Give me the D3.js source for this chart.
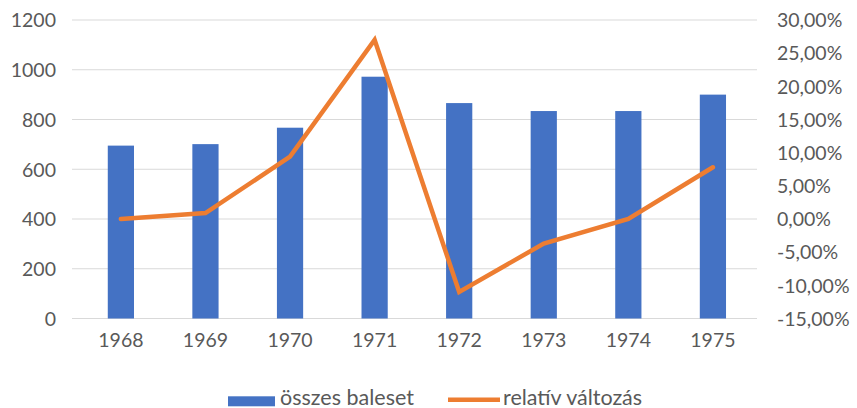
<!DOCTYPE html>
<html>
<head>
<meta charset="utf-8">
<script src="https://cdn.jsdelivr.net/npm/d3@7"></script>
<style>
  html, body { margin: 0; padding: 0; background: #fff; }
  svg { display: block; }
  text { font-family: Lato, "Open Sans", sans-serif; fill: #595959; }
</style>
</head>
<body>
<svg id="chart" width="857" height="408"></svg>
<script>
// Yearly accident totals and their relative change
const years = ["1968", "1969", "1970", "1971", "1972", "1973", "1974", "1975"];
const totalAccidents = [695, 701, 767, 972, 866, 834, 834, 900];
const relativeChange = [0.0, 0.9, 9.4, 27.0, -11.0, -3.7, 0.0, 7.8];
const leftTicks = [0, 200, 400, 600, 800, 1000, 1200];
const rightTicks = [-15, -10, -5, 0, 5, 10, 15, 20, 25, 30];
const seriesNames = ["összes baleset", "relatív változás"];

const barColor = "#4472C4";
const lineColor = "#ED7D31";
const axisFont = "19.5px";

const svg = d3.select("#chart");
const plotTop = 20, plotBottom = 318.5;
const gridLeft = 72, gridRight = 757;

const x = d3.scaleBand().domain(years).range([78.6, 755.2])
  .paddingInner(0.69).paddingOuter(0.345);
const yL = d3.scaleLinear().domain([0, 1200]).range([plotBottom, plotTop]);
const yR = d3.scaleLinear().domain([-15, 30]).range([plotBottom, plotTop]);

// horizontal gridlines
svg.append("g").selectAll("line").data(leftTicks).join("line")
  .attr("x1", gridLeft).attr("x2", gridRight)
  .attr("y1", d => yL(d)).attr("y2", d => yL(d))
  .attr("stroke", "#d9d9d9").attr("stroke-width", 1);

// left axis labels
const axL = svg.append("g").attr("transform", "translate(56,0)")
  .call(d3.axisLeft(yL).tickValues(leftTicks).tickSize(0).tickPadding(0).tickFormat(d => String(d)));
axL.select(".domain").remove();
axL.selectAll("text").style("font-size", axisFont).attr("fill", "#595959")
  .style("font-family", "Lato, sans-serif").attr("dy", "0.35em");

// right axis labels, Hungarian decimal comma and plain hyphen minus
const fmtPct = d => d.toFixed(2).replace(".", ",") + "%";
const axR = svg.append("g").attr("transform", "translate(777,0)")
  .call(d3.axisRight(yR).tickValues(rightTicks).tickSize(0).tickPadding(0).tickFormat(fmtPct));
axR.select(".domain").remove();
axR.selectAll("text").style("font-size", axisFont).attr("fill", "#595959")
  .style("font-family", "Lato, sans-serif").attr("dy", "0.35em");

// category labels
const axX = svg.append("g").attr("transform", `translate(0,${plotBottom})`)
  .call(d3.axisBottom(x).tickSize(0).tickPadding(22));
axX.select(".domain").remove();
axX.selectAll("text").style("font-size", axisFont).attr("fill", "#595959")
  .style("font-family", "Lato, sans-serif").attr("dy", "0.35em");

// bars
svg.append("g").selectAll("rect").data(years).join("rect")
  .attr("x", d => x(d))
  .attr("width", x.bandwidth())
  .attr("y", (d, i) => yL(totalAccidents[i]))
  .attr("height", (d, i) => yL(0) - yL(totalAccidents[i]))
  .attr("fill", barColor);

// relative change line
const line = d3.line()
  .x((d, i) => x(years[i]) + x.bandwidth() / 2)
  .y(d => yR(d));
svg.append("path").datum(relativeChange)
  .attr("d", line)
  .attr("fill", "none")
  .attr("stroke", lineColor)
  .attr("stroke-width", 4.5)
  .attr("stroke-linejoin", "miter")
  .attr("stroke-linecap", "round");

// legend
const lg = svg.append("g");
lg.append("rect").attr("x", 228).attr("y", 396.3).attr("width", 47).attr("height", 10).attr("fill", barColor);
lg.append("text").attr("x", 280).attr("y", 404.5).style("font-size", "21.5px").text(seriesNames[0]);
lg.append("line").attr("x1", 448).attr("x2", 500).attr("y1", 399.7).attr("y2", 399.7)
  .attr("stroke", lineColor).attr("stroke-width", 4.5);
lg.append("text").attr("x", 503).attr("y", 404.5).style("font-size", "21.5px").text(seriesNames[1]);
</script>
</body>
</html>
